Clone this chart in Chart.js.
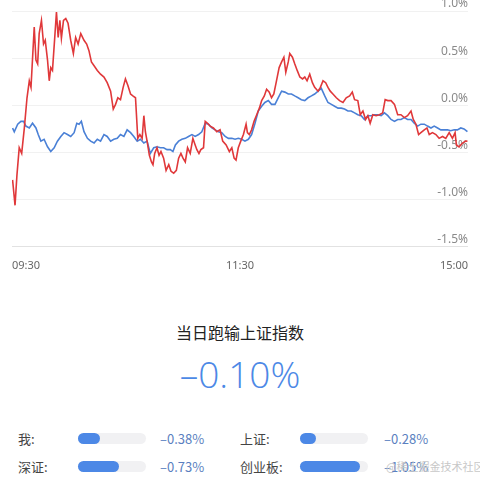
<!DOCTYPE html>
<html><head><meta charset="utf-8">
<script src="https://cdn.jsdelivr.net/npm/chart.js@4"></script>
<style>
body{margin:0;width:480px;height:480px;background:#fff;font-family:"Noto Sans CJK SC","Noto Sans",sans-serif;position:relative;overflow:hidden}
#wrap{position:absolute;left:0;top:0;width:480px;height:276px}
.t{position:absolute;white-space:nowrap}
.track{position:absolute;height:11px;border-radius:6px;background:#f1f1f3;width:68px}
.fill{position:absolute;left:0;top:0;height:11px;border-radius:6px;background:#4c88e6}
</style></head><body>
<div id="wrap"><canvas id="c"></canvas></div>
<div class="t" style="left:0;width:480px;text-align:center;top:320px;font-size:16px;color:#222">当日跑输上证指数</div>
<div class="t" id="big" style="left:0;width:480px;text-align:center;top:348px;font-size:37px;color:#4c88e6;font-family:'Open Sans','Noto Sans',sans-serif;font-weight:300"></div>
<div id="rows"></div>
<div class="t" style="left:386px;top:458px;font-size:11px;color:#c8c8c8">@稀土掘金技术社区</div>
<script>
const xTickLabels = {0:'09:30',120:'11:30',240:'15:00'};
const yTicks = [1.0,0.5,0.0,-0.5,-1.0,-1.5];
const mine = [[0.3,-0.79],[1.6,-1.06],[2.6,-0.74],[3.8,-0.45],[5.1,-0.51],[6.5,-0.24],[7.9,0.08],[9.1,0.26],[10.0,0.19],[11.7,0.83],[12.6,0.48],[13.5,0.44],[14.3,0.76],[15.5,0.90],[16.6,0.65],[17.5,0.69],[18.7,0.48],[19.6,0.26],[20.4,0.40],[21.3,0.37],[22.5,0.72],[23.4,0.99],[24.3,0.72],[25.2,0.90],[26.0,0.71],[27.1,0.90],[28.3,0.92],[29.5,0.87],[30.9,0.69],[32.3,0.55],[33.5,0.72],[34.8,0.65],[36.2,0.76],[37.9,0.69],[39.3,0.65],[40.5,0.58],[41.8,0.46],[43.2,0.42],[44.9,0.37],[46.6,0.33],[48.4,0.30],[50.1,0.24],[51.9,0.15],[53.3,-0.04],[54.5,0.01],[55.7,0.08],[57.1,0.06],[58.5,0.19],[59.7,0.28],[61.0,0.21],[62.4,0.12],[63.6,0.10],[65.0,0.08],[66.2,-0.35],[67.3,-0.31],[68.5,-0.35],[69.4,-0.11],[70.2,-0.28],[71.1,-0.38],[72.3,-0.53],[73.4,-0.60],[74.2,-0.63],[75.1,-0.51],[76.3,-0.45],[77.4,-0.53],[78.4,-0.49],[79.8,-0.56],[81.1,-0.69],[82.5,-0.63],[83.7,-0.70],[85.1,-0.72],[86.5,-0.69],[87.7,-0.56],[88.9,-0.51],[90.0,-0.56],[91.2,-0.60],[92.4,-0.45],[93.8,-0.51],[95.2,-0.35],[96.4,-0.42],[97.3,-0.47],[98.4,-0.51],[99.4,-0.47],[100.8,-0.45],[101.7,-0.17],[102.9,-0.19],[104.3,-0.22],[106.0,-0.24],[107.8,-0.28],[109.5,-0.26],[110.9,-0.38],[112.7,-0.42],[114.4,-0.49],[115.7,-0.45],[116.9,-0.56],[117.9,-0.58],[119.1,-0.45],[120.4,-0.38],[121.8,-0.31],[123.2,-0.20],[123.9,-0.29],[124.9,-0.31],[126.1,-0.26],[127.4,-0.17],[128.8,-0.10],[130.2,-0.03],[131.4,0.05],[132.8,0.10],[134.0,0.17],[135.4,0.14],[136.6,0.08],[137.8,0.12],[139.2,0.26],[140.6,0.40],[141.9,0.46],[143.1,0.51],[144.1,0.35],[145.4,0.46],[146.2,0.55],[147.6,0.51],[148.8,0.44],[150.1,0.37],[151.5,0.30],[152.9,0.28],[154.1,0.30],[155.3,0.26],[156.7,0.33],[158.1,0.24],[159.3,0.19],[161.1,0.15],[162.3,0.19],[163.7,0.26],[165.1,0.24],[166.3,0.19],[167.5,0.15],[168.9,0.12],[170.7,0.08],[172.4,0.05],[174.2,0.03],[175.9,0.08],[177.7,0.10],[179.1,0.14],[180.3,0.06],[182.0,0.05],[183.3,-0.10],[184.7,-0.06],[186.1,-0.15],[187.3,-0.11],[188.5,-0.19],[189.9,-0.10],[191.6,-0.11],[193.4,-0.10],[195.1,-0.08],[196.4,0.06],[197.8,0.05],[199.5,0.05],[201.3,0.01],[203.0,-0.10],[204.7,-0.10],[206.5,-0.13],[208.2,-0.11],[210.0,-0.06],[211.2,-0.15],[212.6,-0.20],[214.0,-0.31],[215.2,-0.29],[217.0,-0.26],[218.4,-0.24],[219.6,-0.31],[221.3,-0.29],[223.1,-0.31],[224.8,-0.35],[226.6,-0.33],[228.3,-0.35],[230.1,-0.29],[231.8,-0.35],[233.2,-0.29],[233.9,-0.42],[235.3,-0.44],[237.1,-0.40],[238.8,-0.38],[239.7,-0.38]];
const shIndex = [[0.3,-0.24],[1.2,-0.28],[3.0,-0.20],[4.7,-0.17],[6.1,-0.17],[7.3,-0.22],[9.1,-0.24],[10.8,-0.19],[12.6,-0.24],[13.8,-0.31],[15.2,-0.38],[16.9,-0.36],[18.7,-0.44],[20.4,-0.49],[22.2,-0.45],[23.9,-0.38],[25.7,-0.33],[27.4,-0.29],[29.2,-0.31],[30.9,-0.33],[32.7,-0.29],[34.1,-0.19],[35.3,-0.20],[36.5,-0.17],[37.9,-0.28],[39.7,-0.35],[41.4,-0.38],[43.2,-0.40],[44.9,-0.36],[46.6,-0.38],[48.4,-0.31],[50.1,-0.33],[51.9,-0.38],[53.6,-0.36],[55.4,-0.35],[57.1,-0.31],[58.9,-0.33],[60.6,-0.26],[62.4,-0.29],[64.1,-0.33],[65.9,-0.38],[67.6,-0.36],[69.4,-0.40],[71.1,-0.38],[72.8,-0.51],[74.6,-0.45],[76.3,-0.44],[78.1,-0.45],[79.8,-0.45],[81.6,-0.47],[83.3,-0.47],[84.7,-0.49],[86.0,-0.42],[87.7,-0.38],[89.4,-0.36],[91.2,-0.35],[92.9,-0.33],[94.7,-0.31],[96.4,-0.33],[98.2,-0.31],[99.9,-0.28],[101.7,-0.19],[103.4,-0.20],[105.2,-0.24],[106.9,-0.26],[108.7,-0.28],[110.4,-0.29],[112.2,-0.33],[113.9,-0.35],[115.7,-0.35],[117.4,-0.36],[119.1,-0.35],[120.9,-0.36],[122.6,-0.38],[124.4,-0.36],[126.1,-0.31],[127.9,-0.19],[129.6,-0.06],[131.4,-0.01],[133.1,0.03],[134.9,0.05],[136.6,0.01],[138.4,0.01],[140.1,0.08],[141.9,0.15],[143.6,0.14],[145.4,0.12],[147.1,0.12],[148.8,0.10],[150.6,0.08],[152.3,0.06],[154.1,0.05],[155.8,0.08],[157.6,0.10],[159.3,0.12],[161.1,0.15],[162.8,0.18],[164.6,0.10],[166.3,0.03],[168.1,0.01],[169.8,-0.01],[171.6,-0.03],[173.3,-0.03],[175.0,-0.04],[176.8,-0.06],[178.5,-0.06],[180.3,-0.08],[182.0,-0.10],[183.8,-0.11],[185.5,-0.15],[187.3,-0.11],[189.0,-0.11],[190.8,-0.10],[192.5,-0.10],[194.3,-0.11],[196.0,-0.08],[197.8,-0.11],[199.5,-0.15],[201.3,-0.17],[203.0,-0.15],[204.7,-0.15],[206.5,-0.13],[208.2,-0.15],[210.0,-0.15],[211.7,-0.19],[213.5,-0.22],[215.2,-0.20],[217.0,-0.20],[218.7,-0.22],[220.5,-0.24],[222.2,-0.22],[224.0,-0.24],[225.7,-0.26],[227.5,-0.26],[229.2,-0.26],[230.9,-0.27],[232.7,-0.26],[234.4,-0.26],[236.2,-0.24],[237.9,-0.25],[239.7,-0.28]];
const diffValue = -0.10;
const compareNames = ['我:','上证:','深证:','创业板:'];
const compareValues = [-0.38,-0.28,-0.73,-1.05];
const compareMax = 1.2;

const toXY = a => a.map(p => ({x:p[0], y:p[1]}));
new Chart(document.getElementById('c'), {
  type:'line',
  data:{datasets:[
    {data:toXY(mine), borderColor:'#e0383a', borderWidth:1.6, pointRadius:0, tension:0},
    {data:toXY(shIndex), borderColor:'#4a80d6', borderWidth:1.6, pointRadius:0, tension:0}
  ]},
  options:{
    responsive:true, maintainAspectRatio:false, animation:false,
    layout:{padding:{top:11,left:12,right:12,bottom:0}},
    plugins:{legend:{display:false}, tooltip:{enabled:false}},
    scales:{
      x:{type:'linear', min:0, max:240,
        afterBuildTicks:s=>{s.ticks=Object.keys(xTickLabels).map(v=>({value:+v}));},
        ticks:{callback:v=>xTickLabels[v]||'', align:'inner', color:'#666', font:{size:11, family:'Noto Sans'}, maxRotation:0, autoSkip:false, padding:4},
        grid:{display:false}, border:{display:false}},
      y:{position:'right', min:-1.5, max:1.0,
        afterBuildTicks:s=>{s.ticks=yTicks.map(v=>({value:v}));},
        ticks:{mirror:true, padding:0, labelOffset:-7, color:'#8a8a8a', font:{size:12, family:'Noto Sans'}, callback:v=>v.toFixed(1)+'%'},
        grid:{color:(c)=>c.tick && c.tick.value===-1.5?'#e2e2e2':'#f1f1f1', lineWidth:1, drawTicks:false},
        border:{display:false}}
    }
  }
});

document.getElementById('big').textContent = '–' + Math.abs(diffValue).toFixed(2) + '%';
const rows = document.getElementById('rows');
const pos = [[18,78,160,429],[240,300,384,429],[18,78,160,457],[240,300,384,457]];
compareNames.forEach((n,i)=>{
  const [lx,bx,vx,y] = pos[i];
  rows.insertAdjacentHTML('beforeend',
    `<div class="t" style="left:${lx}px;top:${y}px;font-size:13px;color:#444">${n}</div>`+
    `<div class="track" style="left:${bx}px;top:${y+4}px"><div class="fill" style="width:${Math.round(68*Math.abs(compareValues[i])/compareMax)}px"></div></div>`+
    `<div class="t" style="left:${vx}px;top:${y}px;font-size:13px;color:#5a7fc0">–${Math.abs(compareValues[i]).toFixed(2)}%</div>`);
});
</script>
</body></html>
